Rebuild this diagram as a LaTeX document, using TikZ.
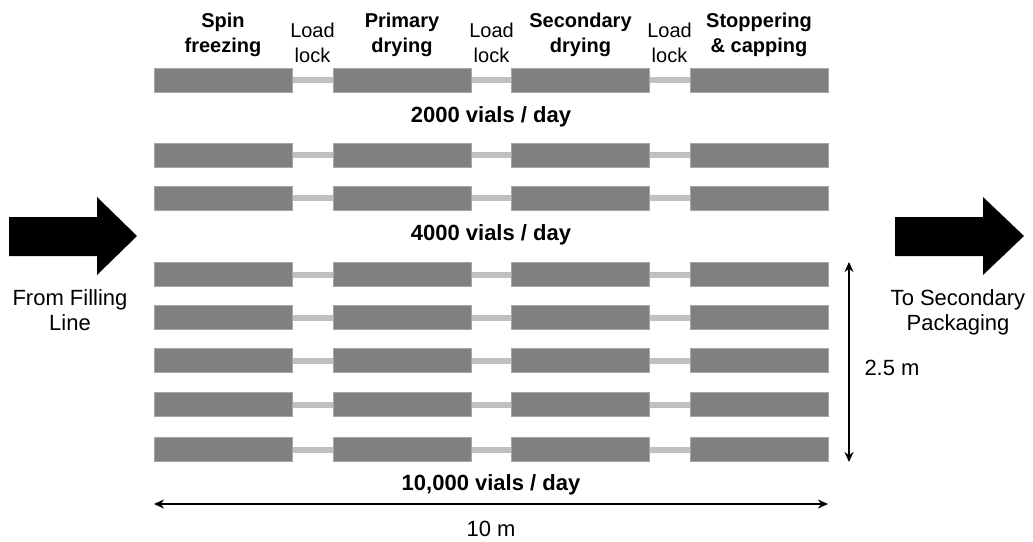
\documentclass[tikz,border=0pt]{standalone}
\usepackage{fontspec}
\setmainfont{Liberation Sans}
\usetikzlibrary{arrows.meta}
\definecolor{boxgray}{HTML}{808080}
\definecolor{boxedge}{HTML}{A6A6A6}
\definecolor{bargray}{HTML}{C0C0C0}
\begin{document}
\begin{tikzpicture}[x=1pt,y=-1pt,
  stagebox/.style={rectangle, fill=boxgray, draw=boxedge, line width=0.6pt, minimum width=138pt, minimum height=24pt, inner sep=0pt},
  lockbar/.style={draw=bargray, line width=6pt},
  head/.style={font=\fontsize{20}{25}\selectfont\bfseries, align=center, anchor=base, inner sep=0pt},
  lockhead/.style={font=\fontsize{20}{25}\selectfont, align=center, anchor=base, inner sep=0pt},
  caption/.style={font=\fontsize{22}{25}\selectfont\bfseries, anchor=base, inner sep=0pt},
  plain/.style={font=\fontsize{22}{25}\selectfont, align=center, anchor=base, inner sep=0pt},
  dim/.style={line width=2.5pt, {Stealth[length=10pt,width=9pt]}-{Stealth[length=10pt,width=9pt]}}]
\useasboundingbox (0,0) rectangle (1033,541);

% rows of stations
\foreach \r/\y in {1/80, 2/155, 3/198, 4/274.5, 5/317.5, 6/360.5, 7/404.5, 8/449.5} {
  \draw[lockbar] (292,\y) -- (333,\y);
  \draw[lockbar] (471,\y) -- (512,\y);
  \draw[lockbar] (649,\y) -- (690,\y);
  \foreach \c/\x in {1/223, 2/402, 3/580.5, 4/759} {
    \node[stagebox] (r\r b\c) at (\x,\y) {};
  }
}

% headers (anchor = baseline of last line)
\node[head] (h1) at (223,52) {Spin\\freezing};
\node[lockhead] (l1) at (312.5,62) {Load\\lock};
\node[head] (h2) at (402,52) {Primary\\drying};
\node[lockhead] (l2) at (491.5,62) {Load\\lock};
\node[head] (h3) at (580.5,52) {Secondary\\drying};
\node[lockhead] (l3) at (669.5,62) {Load\\lock};
\node[head] (h4) at (759,52) {Stoppering\\\& capping};

% captions
\node[caption] (c1) at (491,122) {2000 vials / day};
\node[caption] (c2) at (491,240) {4000 vials / day};
\node[caption] (c3) at (491,490) {10,000 vials / day};

% block arrows
\fill (9,217) -- (97,217) -- (97,197) -- (137,236) -- (97,275) -- (97,256) -- (9,256) -- cycle;
\fill (895,217) -- (983,217) -- (983,197) -- (1024,236) -- (983,275) -- (983,256) -- (895,256) -- cycle;
\node[plain] (from) at (70,330) {From Filling\\Line};
\node[plain] (to) at (958,330) {To Secondary\\Packaging};

% dimensions
\coordinate (hl) at (154,504);
\coordinate (hr) at (828,504);
\draw[dim] (hl) -- (hr);
\node[plain] (dimh) at (491,536) {10 m};
\coordinate (vt) at (849,262);
\coordinate (vb) at (849,462);
\draw[dim] (vt) -- (vb);
\node[plain] (dimv) at (892,375) {2.5 m};
\end{tikzpicture}
\end{document}
